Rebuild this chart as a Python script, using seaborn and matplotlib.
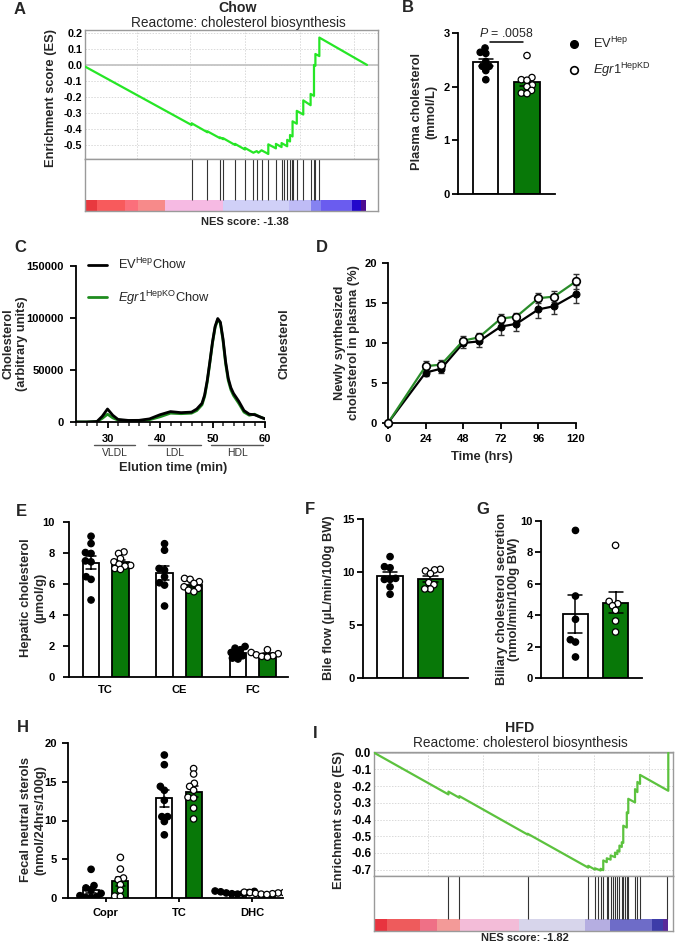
import numpy as np
import pandas as pd
import matplotlib.pyplot as plt
import seaborn as sns
from matplotlib.lines import Line2D
from matplotlib.ticker import MultipleLocator

# ---------------- data ----------------
# A: GSEA, chow (gene rank scaled 0-100)
chow_rank = [0, 37.8, 37.8, 43.4, 43.4, 47.9, 47.9, 49.0, 49.0, 53.2, 53.2, 56.7, 56.7,
             59.7, 60.9, 61.5, 62.6, 64.2, 65.0, 65.0, 67.7, 67.7, 69.7, 69.7, 71.7, 71.7,
             72.7, 72.7, 73.6, 73.6, 75.1, 75.1, 77.4, 77.4, 80.0, 80.0, 81.2, 81.2, 81.7,
             81.7, 83.1, 83.1, 100]
chow_es = [-0.01, -0.373, -0.362, -0.418, -0.412, -0.455, -0.450, -0.461, -0.455, -0.497,
           -0.490, -0.525, -0.515, -0.545, -0.535, -0.545, -0.530, -0.545, -0.553, -0.493,
           -0.518, -0.490, -0.510, -0.485, -0.505, -0.465, -0.475, -0.435, -0.444, -0.350,
           -0.365, -0.285, -0.308, -0.220, -0.250, -0.180, -0.192, 0.0, -0.005, 0.068,
           0.055, 0.170, 0.0]
chow_hits = [37.8, 43.4, 47.9, 49.0, 53.2, 56.7, 59.7, 60.9, 62.6, 65.0, 67.7, 69.7, 70.6,
             71.7, 72.7, 73.3, 73.6, 75.1, 77.4, 80.0, 81.2, 81.7, 83.1]
chow_bar_edges = [0, 4.1, 14.2, 18.9, 28.5, 49.1, 72.5, 80.3, 83.8, 94.7, 97.9, 99.6]
chow_bar_colors = ['#e8393f', '#f85a5c', '#fb6f7b', '#f78a8a', '#f6bae3', '#d0d0f7',
                   '#bfbcf6', '#8582f1', '#6a5cef', '#2208cc', '#4e0c90']

# I: GSEA, HFD
hfd_rank = [0, 25.3, 25.3, 29.0, 29.0, 52.2, 52.2, 72.8, 72.8, 75.1, 75.1, 77.0, 77.0,
            77.9, 77.9, 79.1, 79.1, 80.4, 80.4, 81.9, 81.9, 82.7, 82.7, 83.4, 83.4, 84.2,
            84.2, 84.7, 84.7, 85.9, 85.9, 86.4, 86.4, 88.7, 88.7, 89.5, 89.5, 90.4, 90.4,
            100, 100]
hfd_es = [0.0, -0.250, -0.233, -0.270, -0.260, -0.490, -0.485, -0.688, -0.677, -0.700,
          -0.692, -0.705, -0.695, -0.703, -0.645, -0.655, -0.632, -0.640, -0.615, -0.625,
          -0.598, -0.607, -0.585, -0.592, -0.556, -0.564, -0.536, -0.540, -0.437, -0.448,
          -0.357, -0.362, -0.276, -0.298, -0.218, -0.236, -0.175, -0.187, -0.133, -0.228,
          0.0]
hfd_hits = [25.3, 29.0, 52.2, 72.8, 75.1, 76.2, 77.0, 77.9, 79.1, 79.6, 80.4, 81.1, 81.9,
            82.7, 83.4, 84.2, 84.7, 85.3, 85.9, 86.4, 88.7, 89.5, 90.4, 99.7]
hfd_bar_edges = [0, 4.4, 15.8, 21.4, 29.1, 49.3, 71.7, 80.1, 94.3, 98.3, 100]
hfd_bar_colors = ['#e8343f', '#ee5b5c', '#ef7086', '#f39a98', '#f3bcd8', '#d7d5eb',
                  '#b5aee1', '#6e6cc8', '#3d3ca8', '#5a2a9a']

# B: plasma cholesterol (mmol/L)
b_ev = [2.72, 2.64, 2.62, 2.47, 2.38, 2.38, 2.30, 2.13]
b_egr1 = [2.58, 2.17, 2.13, 2.12, 2.03, 2.00, 1.93, 1.88, 1.87]

# C: FPLC profile
c_time = [24, 26, 28, 29, 30, 31, 32, 34, 36, 38, 40, 42, 44, 46, 47, 48, 48.5, 49, 49.5,
          50, 50.5, 51, 51.5, 52, 52.5, 53, 53.5, 54, 55, 56, 57, 58, 59, 60]
c_ev = [0, 0, 500, 5500, 12500, 6500, 2500, 1500, 1600, 3000, 7000, 10000, 9000, 9500,
        12500, 18000, 26000, 40000, 58000, 77000, 92000, 99500, 96000, 80000, 58000,
        42000, 33000, 27500, 20000, 11000, 7500, 7000, 5000, 3000]
c_egr1 = [0, 0, 300, 3500, 7500, 4000, 1800, 1200, 1200, 2200, 5000, 8500, 8000, 8500,
          11000, 16500, 24500, 38500, 57000, 76000, 91000, 98500, 95000, 78500, 56000,
          40000, 31000, 25500, 18000, 9500, 6500, 7500, 5000, 3000]
c_frac_names = ['VLDL', 'LDL', 'HDL']
c_frac_start = [27.4, 37.8, 49.8]
c_frac_end = [35.3, 47.8, 59.6]

# D: newly synthesized cholesterol (%)
d_time = [0, 24, 34, 48, 58, 72, 82, 96, 106, 120]
d_ev = [0, 6.3, 6.8, 10.0, 10.2, 12.05, 12.4, 14.2, 14.6, 16.15]
d_ev_sem = [0, 0.4, 0.5, 0.6, 0.7, 1.0, 0.9, 1.1, 1.0, 1.1]
d_egr1 = [0, 7.1, 7.3, 10.3, 10.7, 13.05, 13.3, 15.6, 15.8, 17.7]
d_egr1_sem = [0, 0.6, 0.6, 0.6, 0.6, 0.6, 0.5, 0.6, 0.7, 0.9]

# E: hepatic cholesterol (umol/g)
e_cats = ['TC', 'CE', 'FC']
e_tc_ev = [9.08, 8.61, 8.03, 7.97, 7.49, 7.43, 6.47, 6.30, 4.97]
e_tc_egr1 = [8.07, 7.97, 7.64, 7.43, 7.28, 7.20, 7.15, 7.00, 6.94]
e_ce_ev = [8.60, 8.18, 7.00, 6.90, 6.47, 6.08, 5.93, 4.58]
e_ce_egr1 = [6.36, 6.30, 6.15, 6.04, 5.82, 5.72, 5.60, 5.50]
e_fc_ev = [1.97, 1.86, 1.76, 1.58, 1.50, 1.37, 1.22, 1.16]
e_fc_egr1 = [1.76, 1.58, 1.50, 1.43, 1.37, 1.33, 1.28]

# F: bile flow, G: biliary cholesterol secretion
f_ev = [11.45, 10.5, 10.4, 9.4, 9.3, 9.3, 8.6, 7.9]
f_egr1 = [10.25, 10.2, 10.1, 9.85, 9.0, 8.8, 8.4, 8.4]
g_ev = [9.4, 5.22, 3.74, 2.44, 2.29, 1.34]
g_egr1 = [8.45, 4.88, 4.73, 4.6, 4.31, 3.63, 2.93]

# H: fecal neutral sterols
h_cats = ['Copr', 'TC', 'DHC']
h_copr_ev = [3.7, 1.6, 1.3, 1.0, 0.6, 0.3, 0.15, 0.1, 0.1]
h_copr_egr1 = [5.24, 3.73, 2.58, 2.36, 1.72, 0.99, 0.25, 0.2]
h_tc_ev = [18.45, 17.2, 14.4, 13.9, 12.6, 10.5, 10.5, 9.87, 8.15]
h_tc_egr1 = [16.7, 16.0, 14.8, 14.4, 13.9, 13.0, 12.9, 11.6, 10.2]
h_dhc_ev = [0.9, 0.85, 0.8, 0.7, 0.65, 0.6, 0.55, 0.5]
h_dhc_egr1 = [0.75, 0.7, 0.7, 0.65, 0.6, 0.55, 0.5, 0.45]

# ---------------- style ----------------
GREEN = '#087808'
bar_pal = {'EV': 'white', 'Egr1': GREEN}
dot_pal = {'EV': 'black', 'Egr1': 'white'}
LAB = 9.3    # axis label size
TICK = 8     # tick label size
DOT = 4.6    # dot diameter shown
DOT_LAYOUT = 3.0  # smaller diameter used to lay the swarm out, so dots may overlap a bit

sns.set_theme(style='ticks')
plt.rcParams['font.family'] = ['Liberation Sans', 'DejaVu Sans']
plt.rcParams.update({
    'font.weight': 'bold',
    'axes.labelweight': 'bold',
    'axes.unicode_minus': False,
    'mathtext.fontset': 'custom',
    'mathtext.rm': 'Liberation Sans:weight=normal',
    'mathtext.it': 'Liberation Sans:style=italic:weight=normal',
    'mathtext.bf': 'Liberation Sans:weight=bold',
})

W, H = 676, 943
fig = plt.figure(figsize=(W / 100, H / 100), dpi=100)
swarm_sets = []


def add_ax(x0, y0, x1, y1):
    ax = fig.add_axes([x0 / W, 1 - y1 / H, (x1 - x0) / W, (y1 - y0) / H])
    ax.px = (x0, y0, x1, y1)
    return ax


def ax_coords(ax, x, y):
    x0, y0, x1, y1 = ax.px
    return (x - x0) / (x1 - x0), (y1 - y) / (y1 - y0)


def ftext(x, y, s, **kw):
    kw.setdefault('ha', 'center')
    kw.setdefault('va', 'center')
    return fig.text(x / W, 1 - y / H, s, **kw)


def ylab(ax, text, x, y, size=LAB, spacing=1.2):
    ax.set_ylabel(text, fontsize=size, fontweight='bold', va='center', ha='center',
                  linespacing=spacing)
    ax.yaxis.set_label_coords(*ax_coords(ax, x, y))


def xlab(ax, text, x, y, size=LAB):
    ax.set_xlabel(text, fontsize=size, fontweight='bold', va='center', ha='center')
    ax.xaxis.set_label_coords(*ax_coords(ax, x, y))


def prism(ax, pad=2):
    sns.despine(ax=ax)
    for s in ['left', 'bottom']:
        ax.spines[s].set_linewidth(1.3)
        ax.spines[s].set_color('black')
    ax.tick_params(direction='out', length=4, width=1.3, labelsize=TICK,
                   colors='black', pad=pad)


def gsea(es_box, hit_box, rank, es, hits, edges, colors, line_color,
         ylim, yticks, xmax, grid_x, tick_size):
    ax = add_ax(*es_box)
    ax.set_axisbelow(True)
    ax.grid(True, color='#d9d9d9', ls=(0, (1.5, 1.5)), lw=0.7)
    ax.axhline(0, color='#c4c4c4', lw=1.3, zorder=1)
    sns.lineplot(x=rank, y=es, ax=ax, color=line_color, lw=1.6,
                 estimator=None, sort=False, zorder=3)
    ax.set_xlim(0, xmax)
    ax.set_ylim(*ylim)
    ax.set_xticks(grid_x)
    ax.set_xticklabels([])
    ax.set_yticks(yticks)
    ax.set_yticklabels([f'{t:.1f}' for t in yticks])
    ax.tick_params(length=0, labelsize=tick_size, pad=2, colors='black')
    for s in ax.spines.values():
        s.set_color('#9a9a9a')
        s.set_linewidth(1.0)

    hx = add_ax(*hit_box)
    hx.vlines(hits, 0.21, 1, color='#333333', lw=0.8)
    hx.barh(0.105, np.diff(edges), left=edges[:-1], height=0.21,
            color=colors, lw=0)
    hx.set_xlim(0, xmax)
    hx.set_ylim(0, 1)
    hx.set_xticks([])
    hx.set_yticks([])
    for s in hx.spines.values():
        s.set_color('#9a9a9a')
        s.set_linewidth(1.0)
    return ax


def swarm(ax, df, **kw):
    n0 = len(ax.collections)
    sns.swarmplot(data=df, y='val', hue='group', palette=dot_pal, size=DOT_LAYOUT,
                  edgecolor='black', linewidth=0.9, legend=False, ax=ax, zorder=4,
                  warn_thresh=1.0, **kw)
    swarm_sets.append(ax.collections[n0:])


def single_bars(ax, ev, egr1, width):
    df = pd.DataFrame({'group': ['EV'] * len(ev) + ['Egr1'] * len(egr1),
                       'val': ev + egr1})
    sns.barplot(data=df, x='group', y='val', hue='group', order=['EV', 'Egr1'],
                palette=bar_pal, saturation=1, width=width, errorbar='se',
                capsize=0.35, edgecolor='black', linewidth=1.3,
                err_kws={'color': 'black', 'linewidth': 1.1}, legend=False, ax=ax)
    swarm(ax, df, x='group', order=['EV', 'Egr1'])
    ax.set_xlabel('')
    ax.set_xticks([])


def grouped_bars(ax, cats, groups):
    rows = []
    for cat, (ev, egr1) in zip(cats, groups):
        rows += [(cat, 'EV', v) for v in ev] + [(cat, 'Egr1', v) for v in egr1]
    df = pd.DataFrame(rows, columns=['cat', 'group', 'val'])
    sns.barplot(data=df, x='cat', y='val', hue='group', order=cats,
                hue_order=['EV', 'Egr1'], palette=bar_pal, saturation=1, width=0.8,
                gap=0.45, errorbar='se', capsize=0.25, edgecolor='black',
                linewidth=1.3, err_kws={'color': 'black', 'linewidth': 1.1},
                legend=False, ax=ax)
    swarm(ax, df, x='cat', order=cats, hue_order=['EV', 'Egr1'], dodge=True)
    ax.set_xlabel('')


# ---------------- A ----------------
ax_a = gsea((85, 30, 378, 159), (85, 159, 378, 211), chow_rank, chow_es, chow_hits,
            chow_bar_edges, chow_bar_colors, '#26e626', (-0.584, 0.217),
            [0.2, 0.1, 0.0, -0.1, -0.2, -0.3, -0.4, -0.5], 103.9,
            [18.3, 37.4, 56.6, 76.1, 95.5], 7.8)
ylab(ax_a, 'Enrichment score (ES)', 51, 98)
ftext(238, 8, 'Chow', fontsize=10.2, fontweight='bold')
ftext(238, 23, 'Reactome: cholesterol biosynthesis', fontsize=9.8, fontweight='normal')
ftext(245, 222, 'NES score: -1.38', fontsize=8, fontweight='bold')

# ---------------- I ----------------
ax_i = gsea((374, 752, 673, 876), (374, 876, 673, 931), hfd_rank, hfd_es, hfd_hits,
            hfd_bar_edges, hfd_bar_colors, '#5cc23e', (-0.738, 0.004),
            [0.0, -0.1, -0.2, -0.3, -0.4, -0.5, -0.6, -0.7], 101.6,
            [18.5, 37.2, 55.8, 74.9, 93.5], 8.3)
ylab(ax_i, 'Enrichment score (ES)', 339, 820)
ftext(520, 728, 'HFD', fontsize=10.2, fontweight='bold')
ftext(520, 743, 'Reactome: cholesterol biosynthesis', fontsize=9.8, fontweight='normal')
ftext(525, 938, 'NES score: -1.82', fontsize=8, fontweight='bold')

# ---------------- B ----------------
ax_b = add_ax(458, 33, 555, 194)
single_bars(ax_b, b_ev, b_egr1, 0.61)
prism(ax_b)
ax_b.set_ylim(0, 3)
ax_b.set_yticks([0, 1, 2, 3])
ax_b.set_xlim(-0.675, 1.68)
ax_b.tick_params(axis='x', length=0)
ylab(ax_b, 'Plasma cholesterol\n(mmol/L)', 424, 112)
ax_b.plot([0.1, 0.9], [2.83, 2.83], color='black', lw=1.1, clip_on=False)
ax_b.text(0.5, 2.99, r'$\it{P}$ = .0058', ha='center', va='center', fontsize=8.9,
          fontweight='normal', clip_on=False)
b_handles = [Line2D([], [], ls='none', marker='o', ms=5.5, mfc='black', mec='black'),
             Line2D([], [], ls='none', marker='o', ms=5.5, mfc='white', mec='black',
                    mew=1.2)]
fig.legend(b_handles, [r'EV$^{\rm Hep}$', r'$\it{Egr1}^{\rm HepKD}$'],
           loc='upper left', bbox_to_anchor=(568 / W, 1 - 36 / H), frameon=False,
           prop={'weight': 'normal', 'size': 9.3}, handlelength=1.0,
           handletextpad=0.9, labelspacing=0.75, borderpad=0, borderaxespad=0)

# ---------------- C ----------------
ax_c = add_ax(76, 266, 265, 422)
sns.lineplot(x=c_time, y=c_egr1, ax=ax_c, color='#1e8c1e', lw=2.0)
sns.lineplot(x=c_time, y=c_ev, ax=ax_c, color='black', lw=2.0)
prism(ax_c, pad=5)
ax_c.set_xlim(24, 60)
ax_c.set_ylim(0, 150000)
ax_c.set_xticks([30, 40, 50, 60])
ax_c.xaxis.set_minor_locator(MultipleLocator(2))
ax_c.tick_params(axis='x', which='minor', length=3, width=1.1)
ax_c.set_yticks([0, 50000, 100000, 150000])
ax_c.set_yticklabels(['0', '50000', '100000', '150000'])
ylab(ax_c, 'Cholesterol\n(arbitrary units)', 15, 344)
xlab(ax_c, 'Elution time (min)', 173, 468)
for name, lo, hi in zip(c_frac_names, c_frac_start, c_frac_end):
    ax_c.plot([lo, hi], [-0.148, -0.148], transform=ax_c.get_xaxis_transform(),
              color='#555555', lw=1.0, clip_on=False)
    ax_c.text((lo + hi) / 2, -0.2, name, transform=ax_c.get_xaxis_transform(),
              ha='center', va='center', fontsize=7.5, fontweight='normal',
              color='#333333')
c_handles = [Line2D([], [], color='black', lw=2), Line2D([], [], color='#1e8c1e', lw=2)]
ax_c.legend(c_handles, [r'EV$^{\rm Hep}$Chow', r'$\it{Egr1}^{\rm HepKO}$Chow'],
            loc='upper left', bbox_to_anchor=(88 / W, 1 - 257 / H),
            bbox_transform=fig.transFigure, frameon=False,
            prop={'weight': 'normal', 'size': 9.3}, handlelength=1.5,
            handletextpad=0.8, labelspacing=1.25, borderpad=0, borderaxespad=0)
ftext(284, 344, 'Cholesterol', fontsize=LAB, fontweight='bold', rotation=90)

# ---------------- D ----------------
ax_d = add_ax(388, 263, 576, 423)
ax_d.errorbar(d_time, d_ev, yerr=d_ev_sem, fmt='none', ecolor='#333333', elinewidth=1,
              capsize=2.5, clip_on=False, zorder=2)
ax_d.errorbar(d_time, d_egr1, yerr=d_egr1_sem, fmt='none', ecolor='#333333',
              elinewidth=1, capsize=2.5, clip_on=False, zorder=2)
sns.lineplot(x=d_time, y=d_ev, ax=ax_d, color='black', lw=1.6, marker='o', ms=5,
             mec='black', clip_on=False, zorder=3)
sns.lineplot(x=d_time, y=d_egr1, ax=ax_d, color='#2a8c2a', lw=1.6, marker='o', ms=5.5,
             mfc='white', mec='black', mew=1.2, clip_on=False, zorder=4)
prism(ax_d, pad=4)
ax_d.set_xlim(0, 120)
ax_d.set_ylim(0, 20)
ax_d.set_xticks([0, 24, 48, 72, 96, 120])
ax_d.set_yticks([0, 5, 10, 15, 20])
ylab(ax_d, 'Newly synthesized\ncholesterol in plasma (%)', 347, 343)
xlab(ax_d, 'Time (hrs)', 482, 457)

# ---------------- E ----------------
ax_e = add_ax(69, 522, 288, 677)
grouped_bars(ax_e, e_cats, [(e_tc_ev, e_tc_egr1), (e_ce_ev, e_ce_egr1),
                            (e_fc_ev, e_fc_egr1)])
prism(ax_e, pad=6)
ax_e.tick_params(axis='x', length=0)
ax_e.set_xlim(-0.5, 2.48)
ax_e.set_ylim(0, 10)
ax_e.set_yticks([0, 2, 4, 6, 8, 10])
ylab(ax_e, 'Hepatic cholesterol\n(\u00b5mol/g)', 33, 598)

# ---------------- F ----------------
ax_f = add_ax(363, 519, 468, 678)
single_bars(ax_f, f_ev, f_egr1, 0.64)
prism(ax_f)
ax_f.set_xlim(-0.67, 1.93)
ax_f.set_ylim(0, 15)
ax_f.set_yticks([0, 5, 10, 15])
ax_f.tick_params(axis='x', length=0)
ylab(ax_f, 'Bile flow (\u00b5L/min/100g BW)', 329, 598)

# ---------------- G ----------------
ax_g = add_ax(541, 521, 642, 678)
single_bars(ax_g, g_ev, g_egr1, 0.63)
prism(ax_g)
ax_g.set_xlim(-0.86, 1.66)
ax_g.set_ylim(0, 10)
ax_g.set_yticks([0, 2, 4, 6, 8, 10])
ax_g.tick_params(axis='x', length=0)
ylab(ax_g, 'Biliary cholesterol secretion\n(nmol/min/100g BW)', 508, 599, spacing=1.1)

# ---------------- H ----------------
ax_h = add_ax(68, 743, 283, 898)
grouped_bars(ax_h, h_cats, [(h_copr_ev, h_copr_egr1), (h_tc_ev, h_tc_egr1),
                            (h_dhc_ev, h_dhc_egr1)])
prism(ax_h, pad=4)
ax_h.tick_params(axis='x', length=3)
ax_h.set_xlim(-0.515, 2.42)
ax_h.set_ylim(0, 20)
ax_h.set_yticks([0, 5, 10, 15, 20])
ylab(ax_h, 'Fecal neutral sterols\n(nmol/24hrs/100g)', 33, 820)

# ---------------- panel letters ----------------
for letter, x, y in [('A', 20, 10), ('B', 408, 8), ('C', 20, 248), ('D', 322, 248),
                     ('E', 21, 511), ('F', 310, 509), ('G', 483, 509), ('H', 23, 728),
                     ('I', 315, 734)]:
    ftext(x, y, letter, fontsize=12, fontweight='bold')

# lay the swarms out with the small dots, then freeze them and show the full-size dots
fig.canvas.draw()
for colls in swarm_sets:
    for coll in colls:
        coll.__dict__.pop('draw', None)
        coll.set_sizes([DOT ** 2])

fig.savefig('out.png', dpi=100)
